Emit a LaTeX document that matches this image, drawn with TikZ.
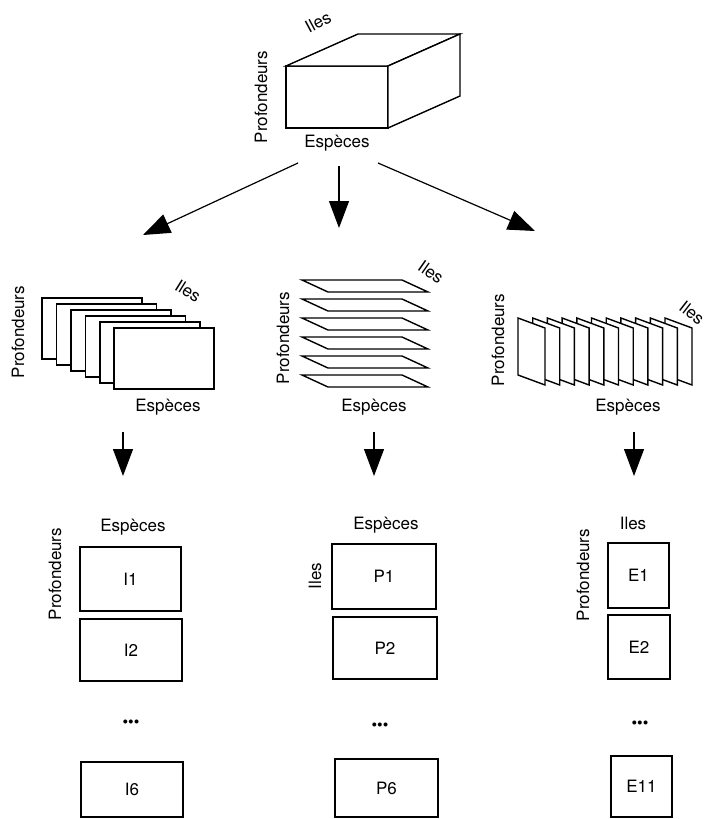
\documentclass[tikz,border=0pt]{standalone}
\usepackage{fontspec}
\setmainfont{TeX Gyre Heros}
\usetikzlibrary{arrows.meta, positioning}

\begin{document}
\begin{tikzpicture}[x=1pt, y=-1pt, font=\fontsize{17}{20}\selectfont]

  \useasboundingbox (0,0) rectangle (707,819);

  \tikzstyle{axislabel} = [inner sep=1pt]
  \tikzstyle{slice} = [draw, line width=1.4pt, fill=white, line join=miter]
  \tikzstyle{cellbox} = [
    draw, line width=1.4pt,
    minimum width=102pt, minimum height=63pt,
    inner sep=0pt
  ]
  \tikzstyle{moredots} = [font=\fontsize{16}{18}\selectfont]
  \tikzstyle{splitarrow} = [-{Triangle[length=27pt, width=20pt]}, line width=1.2pt]

  % cube of the whole table
  \draw[slice] (286,66) rectangle (388,128);
  \draw[slice] (286,66) -- (358,34) -- (460,34) -- (388,66) -- cycle;
  \draw[slice] (388,66) -- (460,34) -- (460,96) -- (388,128) -- cycle;

  \node[axislabel, rotate=28] (cubeile) at (318,22) {Iles};
  \node[axislabel, rotate=90] (cubeprof) at (261,97) {Profondeurs};
  \node[axislabel] (cubeesp) at (337,143) {Espèces};

  \coordinate (outl) at (298,163);
  \coordinate (outm) at (339,166);
  \coordinate (outr) at (378,163);
  \coordinate (inl) at (143,235);
  \coordinate (inm) at (339,228);
  \coordinate (inr) at (535,231);

  \draw[splitarrow] (outl) -- (inl);
  \draw[splitarrow] (outm) -- (inm);
  \draw[splitarrow] (outr) -- (inr);

  % slices by island
  \draw[slice] (42,298) rectangle (142,359);
  \draw[slice] (56.5,304) rectangle (156.5,365);
  \draw[slice] (71,310) rectangle (171,371);
  \draw[slice] (85.5,316) rectangle (185.5,377);
  \draw[slice] (100,322) rectangle (200,383);
  \draw[slice] (114,328) rectangle (214,389);

  \node[axislabel, rotate=90] (ileprof) at (18,332) {Profondeurs};
  \node[axislabel, rotate=-32] (ileile) at (188,291) {Iles};
  \node[axislabel] (ileesp) at (168,407) {Espèces};

  % slices by depth
  \draw[slice] (302,280) -- (402,280) -- (428,292) -- (328,292) -- cycle;
  \draw[slice] (302,299) -- (402,299) -- (428,311) -- (328,311) -- cycle;
  \draw[slice] (302,318) -- (402,318) -- (428,330) -- (328,330) -- cycle;
  \draw[slice] (302,337) -- (402,337) -- (428,349) -- (328,349) -- cycle;
  \draw[slice] (302,356) -- (402,356) -- (428,368) -- (328,368) -- cycle;
  \draw[slice] (302,375) -- (402,375) -- (428,387) -- (328,387) -- cycle;

  \node[axislabel, rotate=90] (profprof) at (283,338) {Profondeurs};
  \node[axislabel, rotate=-35] (profile) at (431,272) {Iles};
  \node[axislabel] (profesp) at (374,407) {Espèces};

  % slices by species
  \draw[slice] (665,318) -- (692,328) -- (692,385) -- (665,375) -- cycle;
  \draw[slice] (650.3,318) -- (677.3,328) -- (677.3,385) -- (650.3,375) -- cycle;
  \draw[slice] (635.6,318) -- (662.6,328) -- (662.6,385) -- (635.6,375) -- cycle;
  \draw[slice] (620.9,318) -- (647.9,328) -- (647.9,385) -- (620.9,375) -- cycle;
  \draw[slice] (606.2,318) -- (633.2,328) -- (633.2,385) -- (606.2,375) -- cycle;
  \draw[slice] (591.5,318) -- (618.5,328) -- (618.5,385) -- (591.5,375) -- cycle;
  \draw[slice] (576.8,318) -- (603.8,328) -- (603.8,385) -- (576.8,375) -- cycle;
  \draw[slice] (562.1,318) -- (589.1,328) -- (589.1,385) -- (562.1,375) -- cycle;
  \draw[slice] (547.4,318) -- (574.4,328) -- (574.4,385) -- (547.4,375) -- cycle;
  \draw[slice] (532.7,318) -- (559.7,328) -- (559.7,385) -- (532.7,375) -- cycle;
  \draw[slice] (518,318) -- (545,328) -- (545,385) -- (518,375) -- cycle;

  \node[axislabel, rotate=90] (espprof) at (498,340) {Profondeurs};
  \node[axislabel, rotate=-38] (espile) at (692,313) {Iles};
  \node[axislabel] (espesp) at (628,407) {Espèces};

  \coordinate (downl) at (123,432);
  \coordinate (downm) at (374,432);
  \coordinate (downr) at (634,432);
  \coordinate (tipl) at (123,476);
  \coordinate (tipm) at (374,476);
  \coordinate (tipr) at (634,476);

  \draw[splitarrow] (downl) -- (tipl);
  \draw[splitarrow] (downm) -- (tipm);
  \draw[splitarrow] (downr) -- (tipr);

  % tables by island
  \node[cellbox, minimum width=101pt, minimum height=64pt] (i1) at (130.5,579) {I1};
  \node[cellbox, minimum height=62pt] (i2) at (131,650) {I2};
  \node[moredots] (idots) at (131,724) {•••};
  \node[cellbox, minimum height=55pt] (i6) at (132,789.5) {I6};
  \node[axislabel] (iesp) at (133,527) {Espèces};
  \node[axislabel, rotate=90] (iprof) at (55,574) {Profondeurs};

  % tables by depth
  \node[cellbox, minimum width=104pt, minimum height=65pt] (p1) at (384,576.5) {P1};
  \node[cellbox, minimum width=104pt, minimum height=62pt] (p2) at (385,648) {P2};
  \node[moredots] (pdots) at (380,727) {•••};
  \node[cellbox, minimum width=103pt, minimum height=58pt] (p6) at (386.5,788) {P6};
  \node[axislabel] (pesp) at (386,525) {Espèces};
  \node[axislabel, rotate=90] (pile) at (315,576) {Iles};

  % tables by species
  \node[cellbox, minimum width=61pt, minimum height=65pt] (e1) at (638.5,575.5) {E1};
  \node[cellbox, minimum width=62pt, minimum height=64pt] (e2) at (639,647) {E2};
  \node[moredots] (edots) at (640,725) {•••};
  \node[cellbox, minimum width=61pt, minimum height=61pt] (e11) at (641.5,786.5) {E11};
  \node[axislabel] (eile) at (633,523) {Iles};
  \node[axislabel, rotate=90] (eprof) at (583,575) {Profondeurs};

\end{tikzpicture}
\end{document}
